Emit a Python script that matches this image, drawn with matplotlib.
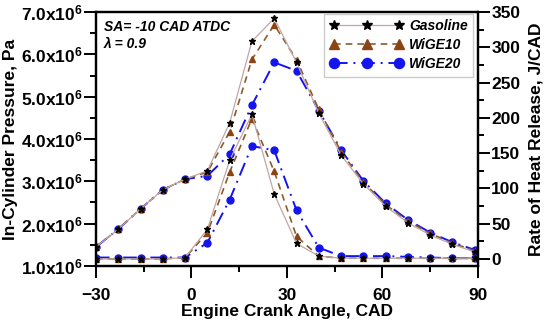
import matplotlib
matplotlib.use("Agg")
import matplotlib.pyplot as plt
from matplotlib.ticker import MultipleLocator, FuncFormatter

plt.rcParams.update({
    "font.family": "Liberation Sans",
    "font.weight": "bold",
    "mathtext.fontset": "custom",
    "mathtext.rm": "Liberation Sans:bold",
    "mathtext.bf": "Liberation Sans:bold",
    "mathtext.default": "bf",
})

# crank angle of every marker, CAD
cad = [-30, -23, -16, -9, -2, 5, 12, 19, 26, 33, 40, 47, 54, 61, 68, 75, 82, 89]

# in-cylinder pressure, 10^6 Pa
p_gasoline = [1.45, 1.87, 2.35, 2.80, 3.05, 3.25, 4.38, 6.31, 6.85, 5.81, 4.61, 3.62, 2.94, 2.41, 2.02, 1.73, 1.51, 1.33]
p_wige10 = [1.45, 1.87, 2.35, 2.80, 3.05, 3.22, 4.17, 5.88, 6.70, 5.87, 4.70, 3.70, 2.98, 2.45, 2.06, 1.77, 1.54, 1.36]
p_wige20 = [1.45, 1.87, 2.35, 2.80, 3.05, 3.13, 3.64, 4.80, 5.81, 5.61, 4.67, 3.74, 3.01, 2.48, 2.09, 1.79, 1.56, 1.38]

# rate of heat release, J/CAD
hrr_gasoline = [0, 0, 0, 0, 2, 42, 140, 205, 92, 22, 4, 1, 1, 1, 1, 1, 1, 1]
hrr_wige10 = [0, 0, 0, 0, 2, 37, 123, 199, 124, 32, 4, 1, 1, 1, 1, 1, 1, 1]
hrr_wige20 = [2, 2, 2, 2, 2, 23, 84, 160, 154, 69, 16, 4, 4, 4, 3, 2, 1, 1]

labels = ["Gasoline", "WiGE10", "WiGE20"]

gas_kw = dict(color="#c0a6a6", lw=0.9, marker="*", ms=5, mfc="black", mec="black")
w10_kw = dict(color="#8b5a2b", lw=1.2, ls=(0, (4, 3)), marker="^", ms=5, mfc="#8b4513", mec="#8b4513")
w20_kw = dict(color="#1414ee", lw=1.4, ls=(0, (7, 3, 1, 3)), marker="o", ms=5, mfc="#1414ee", mec="#1414ee")

fig = plt.figure(figsize=(5.5, 3.29), dpi=100)
ax = fig.add_axes([0.1745, 0.1915, 0.6945, 0.772])
ax2 = ax.twinx()

# pressure on the left axis (blue under the others, as in the reference)
ax.plot(cad, [v * 1e6 for v in p_wige20], **w20_kw)
ax.plot(cad, [v * 1e6 for v in p_wige10], **w10_kw)
ax.plot(cad, [v * 1e6 for v in p_gasoline], **gas_kw)

# heat release on the right axis
h20, = ax2.plot(cad, hrr_wige20, **w20_kw)
h10, = ax2.plot(cad, hrr_wige10, **w10_kw)
hg, = ax2.plot(cad, hrr_gasoline, **gas_kw)

ax.set_xlim(-30, 90)
ax.set_ylim(1.0e6, 7.0e6)
ax2.set_ylim(-10, 350)

ax.xaxis.set_major_locator(MultipleLocator(30))
ax.xaxis.set_minor_locator(MultipleLocator(15))
ax.yaxis.set_major_locator(MultipleLocator(1e6))
ax.yaxis.set_minor_locator(MultipleLocator(0.5e6))
ax2.yaxis.set_major_locator(MultipleLocator(50))
ax2.yaxis.set_minor_locator(MultipleLocator(25))
ax.yaxis.set_major_formatter(FuncFormatter(lambda v, _: f"{v / 1e6:.1f}x10$^{{6}}$"))

for a in (ax, ax2):
    for s in a.spines.values():
        s.set_linewidth(1.6)
    a.tick_params(which="major", direction="out", length=8.5, width=1.4, labelsize=12.5, pad=1)
    a.tick_params(which="minor", direction="out", length=4.5, width=1.4)
ax.tick_params(axis="x", pad=7)

ax.set_xlabel("Engine Crank Angle, CAD", fontsize=12.5, fontweight="bold", labelpad=1)
ax.set_ylabel("In-Cylinder Pressure, Pa", fontsize=12.5, fontweight="bold", labelpad=2)
ax2.set_ylabel("Rate of Heat Release, J/CAD", fontsize=12.5, fontweight="bold", labelpad=6)

ax.text(0.021, 0.968, "SA= -10 CAD ATDC", transform=ax.transAxes, fontsize=10,
        fontweight="bold", fontstyle="italic", va="top")
ax.text(0.021, 0.90, "λ = 0.9", transform=ax.transAxes, fontsize=10,
        fontweight="bold", fontstyle="italic", va="top")

leg = ax2.legend([hg, h10, h20], labels, loc="upper right", bbox_to_anchor=(0.988, 0.993),
                 borderaxespad=0, numpoints=3, markerscale=1.45, handlelength=5.3,
                 fancybox=False, framealpha=1, edgecolor="#cccccc", labelspacing=0.35,
                 handletextpad=0.4, prop={"size": 10, "weight": "bold", "style": "italic"})

fig.savefig("out.png", dpi=100)
